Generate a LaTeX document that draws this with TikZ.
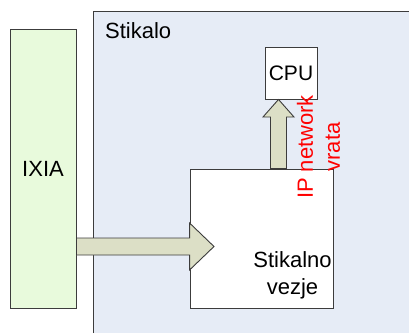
\documentclass[tikz,border=0pt]{standalone}
\usepackage{fontspec}
\setmainfont{Liberation Sans}
\usetikzlibrary{calc}

\definecolor{ixiagreen}{HTML}{E8FADC}
\definecolor{switchblue}{HTML}{E6ECF6}
\definecolor{arrowfill}{HTML}{DCDFC6}
\definecolor{edgegray}{HTML}{3C3C3C}

\tikzset{
	box/.style={draw=edgegray, fill=white, inner sep=0pt, line width=0.9pt},
	blockarrow/.style={draw=edgegray, fill=arrowfill, line width=0.9pt, line join=miter},
	txt/.style={font=\fontsize{22}{27}\selectfont, inner sep=0pt}
}

\begin{document}
\begin{tikzpicture}[x=1pt, y=1pt]
	\useasboundingbox (0,0) rectangle (409,333);

	% Nodes {stikalo, ixia, switch, cpu}
	\node [fill=switchblue, minimum width=316, minimum height=321, inner sep=0pt, anchor=south west] (stikalo) at (93,0) {};
	\draw [draw=edgegray, line width=0.9pt] (stikalo.south west) |- (stikalo.north east);
	\node [txt, anchor=north west] (stikalolbl) at ($(stikalo.north west)+(12,-11)$) {Stikalo};

	\node [box, fill=ixiagreen, minimum width=66, minimum height=279] (ixia) at (43,164.5) {};
	\node [txt] (ixialbl) at (ixia.center) {IXIA};

	\node [box, minimum width=143, minimum height=139] (switch) at (261.5,94.5) {};
	\node [txt, align=center, anchor=south] (switchlbl) at ($(switch.south)+(31,9)$) {Stikalno\\vezje};

	\node [box, minimum width=52, minimum height=52] (cpu) at (291,260) {};
	\node [txt, font=\fontsize{21}{25}\selectfont] (cpulbl) at (cpu.center) {CPU};

	% Paths
	\draw [blockarrow] (ixia.east |- 0,95) -- (switch.west |- 0,95) -- (switch.west |- 0,110)
		-- (214,86.5) -- (switch.west |- 0,63) -- (switch.west |- 0,78) -- (ixia.east |- 0,78) -- cycle;
	\draw [blockarrow] (270.5,0 |- switch.north) -- (270.5,216) -- (263,216) -- (278.5,0 |- cpu.south)
		-- (294,216) -- (286.5,216) -- (286.5,0 |- switch.north) -- cycle;

	\node [txt, red, rotate=90, align=center] (iplbl) at (318.5,186) {IP network\\vrata};
\end{tikzpicture}
\end{document}
